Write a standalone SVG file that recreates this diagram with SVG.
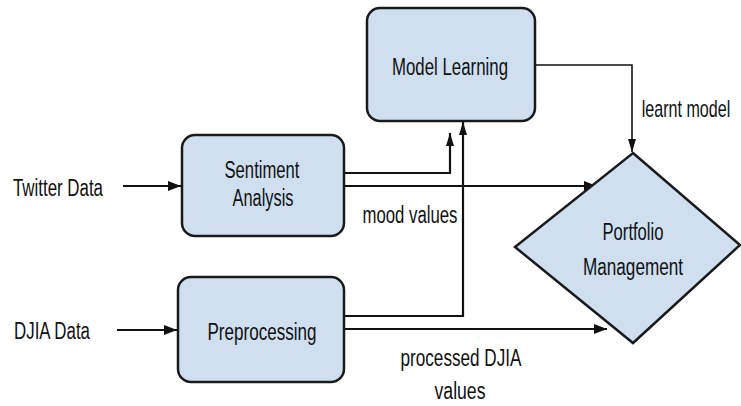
<svg xmlns="http://www.w3.org/2000/svg" width="741" height="406" viewBox="0 0 741 406">
<defs>
<style>
.box{fill:#cfdff0;stroke:#1a1a1a;stroke-width:2.5}
.t{font-family:"Liberation Sans",Arial,sans-serif;font-size:23px;fill:#111;text-anchor:middle}
.c{fill:none;stroke:#111;stroke-width:2.2}
.cthin{fill:none;stroke:#111;stroke-width:1.6}
</style>
<marker id="ah" markerUnits="userSpaceOnUse" markerWidth="14" markerHeight="10" refX="13" refY="5" orient="auto">
<path d="M0,0 L13,5 L0,10 z" fill="#111"/>
</marker>
<marker id="ahs" markerUnits="userSpaceOnUse" markerWidth="14" markerHeight="8" refX="13" refY="4" orient="auto">
<path d="M0,0 L13,4 L0,8 z" fill="#111"/>
</marker>
</defs>
<rect width="741" height="406" fill="#fff"/>

<g id="connectors">
<path class="c" d="M123,186 H181" marker-end="url(#ah)"/>
<path class="c" d="M117,330 H177" marker-end="url(#ah)"/>
<path class="c" d="M344,173 H450 V133" marker-end="url(#ahs)"/>
<path class="c" d="M344,186 H597" marker-end="url(#ah)"/>
<path class="c" d="M344,316 H463 V122" marker-end="url(#ahs)"/>
<path class="c" d="M344,329 H607" marker-end="url(#ah)"/>
<path class="cthin" d="M535,65 H632 V152" marker-end="url(#ahs)"/>
</g>

<g id="twitter-data">
<text class="t" x="58" y="196" textLength="90" lengthAdjust="spacingAndGlyphs">Twitter Data</text>
</g>
<g id="djia-data">
<text class="t" x="52" y="339" textLength="76" lengthAdjust="spacingAndGlyphs">DJIA Data</text>
</g>

<g id="model-learning">
<rect class="box" x="367" y="8" width="168" height="113" rx="13"/>
<text class="t" x="450" y="75" textLength="116" lengthAdjust="spacingAndGlyphs">Model Learning</text>
</g>

<g id="sentiment-analysis">
<rect class="box" x="182" y="135" width="162" height="101" rx="13"/>
<text class="t" x="262" y="178" textLength="75" lengthAdjust="spacingAndGlyphs">Sentiment</text>
<text class="t" x="263" y="206" textLength="61" lengthAdjust="spacingAndGlyphs">Analysis</text>
</g>

<g id="preprocessing">
<rect class="box" x="178" y="277" width="166" height="105" rx="13"/>
<text class="t" x="262" y="340" textLength="109" lengthAdjust="spacingAndGlyphs">Preprocessing</text>
</g>

<g id="portfolio-management">
<polygon class="box" points="633,153 740,245 633,343 515,247"/>
<text class="t" x="633" y="240" textLength="61" lengthAdjust="spacingAndGlyphs">Portfolio</text>
<text class="t" x="633" y="275" textLength="100" lengthAdjust="spacingAndGlyphs">Management</text>
</g>

<g id="labels">
<text class="t" x="410" y="223" textLength="95" lengthAdjust="spacingAndGlyphs">mood values</text>
<text class="t" x="0" y="0" transform="translate(686,117) scale(0.7,1)">learnt model</text>
<text class="t" x="461" y="366" textLength="121" lengthAdjust="spacingAndGlyphs">processed DJIA</text>
<text class="t" x="460" y="399" textLength="51" lengthAdjust="spacingAndGlyphs">values</text>
</g>
</svg>
